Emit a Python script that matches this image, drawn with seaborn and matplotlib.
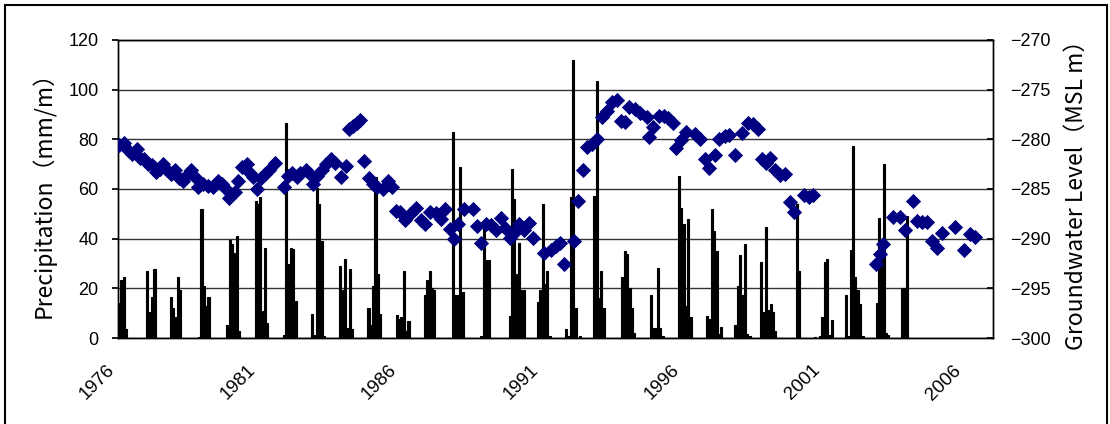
import numpy as np
import pandas as pd
import matplotlib
matplotlib.use("Agg")
import matplotlib.pyplot as plt
from matplotlib.patches import Rectangle
import seaborn as sns

# monthly precipitation (mm/month), only months with rain; others are zero
rain_month = [
    "1976-01", "1976-02", "1976-03", "1976-04",
    "1977-01", "1977-02", "1977-03", "1977-04",
    "1977-11", "1977-12", "1978-01", "1978-02", "1978-03",
    "1978-11", "1978-12", "1979-01", "1979-02", "1979-03",
    "1979-11", "1979-12", "1980-01", "1980-02", "1980-03", "1980-04",
    "1980-11", "1980-12", "1981-01", "1981-02", "1981-03", "1981-04",
    "1981-11", "1981-12", "1982-01", "1982-02", "1982-03", "1982-04",
    "1982-11", "1982-12", "1983-01", "1983-02", "1983-03", "1983-04",
    "1983-11", "1983-12", "1984-01", "1984-02", "1984-03", "1984-04",
    "1984-11", "1984-12", "1985-01", "1985-02", "1985-03", "1985-04",
    "1985-11", "1985-12", "1986-01", "1986-02", "1986-03", "1986-04",
    "1986-11", "1986-12", "1987-01", "1987-02", "1987-03",
    "1987-11", "1987-12", "1988-01", "1988-02", "1988-03",
    "1988-11", "1988-12", "1989-01", "1989-02",
    "1989-11", "1989-12", "1990-01", "1990-02", "1990-03", "1990-04", "1990-05",
    "1990-11", "1990-12", "1991-01", "1991-02", "1991-03", "1991-04",
    "1991-11", "1991-12", "1992-01", "1992-02", "1992-03", "1992-05",
    "1992-11", "1992-12", "1993-01", "1993-02", "1993-03",
    "1993-11", "1993-12", "1994-01", "1994-02", "1994-03", "1994-04",
    "1994-11", "1994-12", "1995-01", "1995-02", "1995-03", "1995-04",
    "1995-11", "1995-12", "1996-01", "1996-02", "1996-03", "1996-04",
    "1996-11", "1996-12", "1997-01", "1997-02", "1997-03", "1997-04", "1997-05",
    "1997-11", "1997-12", "1998-01", "1998-02", "1998-03", "1998-04", "1998-05",
    "1998-10", "1998-11", "1998-12", "1999-01", "1999-02", "1999-03", "1999-04",
    "2000-01", "2000-02", "2000-09",
    "2000-11", "2000-12", "2001-01", "2001-02", "2001-03", "2001-04",
    "2001-10", "2001-11", "2001-12", "2002-01", "2002-02", "2002-03", "2002-04", "2002-05",
    "2002-11", "2002-12", "2003-01", "2003-02", "2003-03", "2003-04",
    "2003-10", "2003-11", "2003-12",
]
rain_mm = [
    14.2, 23.2, 24.5, 3.8,
    27.0, 10.5, 16.4, 27.6,
    16.4, 12.0, 8.4, 24.7, 19.5,
    0.5, 52.0, 21.0, 12.8, 16.4,
    5.4, 39.5, 38.0, 34.4, 41.0, 3.0,
    55.0, 54.0, 56.6, 10.8, 36.4, 6.0,
    1.3, 86.5, 30.0, 36.4, 35.7, 14.8,
    9.7, 1.3, 60.6, 54.0, 39.0, 0.7,
    29.0, 19.5, 32.0, 4.0, 27.6, 3.8,
    12.0, 5.4, 21.0, 65.0, 25.6, 9.7,
    9.2, 7.8, 8.4, 27.0, 3.0, 6.7,
    17.2, 23.2, 27.0, 20.2, 19.5,
    83.0, 17.2, 17.5, 68.7, 18.6,
    0.7, 43.8, 31.3, 31.3,
    8.8, 68.0, 56.0, 25.6, 38.4, 19.5, 19.5,
    14.7, 19.5, 54.0, 21.6, 27.0, 0.7,
    3.8, 0.7, 56.6, 112.0, 11.9, 0.7,
    57.3, 103.5, 16.2, 27.0, 12.0,
    24.5, 35.0, 33.7, 20.2, 12.0, 2.0,
    17.2, 4.0, 4.0, 28.3, 4.0, 1.0,
    65.4, 52.3, 46.0, 12.8, 47.8, 8.4,
    9.0, 7.8, 52.0, 43.0, 35.0, 1.6, 4.5,
    5.4, 21.0, 33.5, 17.2, 38.0, 1.6, 0.7,
    30.7, 10.5, 44.7, 11.2, 13.5, 10.5, 3.0,
    54.0, 27.0, 0.3,
    0.7, 8.4, 30.7, 32.0, 1.3, 7.4,
    17.3, 1.0, 35.3, 77.5, 24.5, 19.5, 13.5, 0.7,
    14.2, 48.5, 33.7, 70.0, 2.0, 1.3,
    20.2, 20.2, 49.0,
]

# groundwater level observations (decimal year, m above MSL)
gw_year = [
    1976.04, 1976.22, 1976.37, 1976.48, 1976.66, 1976.78, 1976.93, 1977.07, 1977.22, 1977.34,
    1977.49, 1977.61, 1977.72, 1977.88, 1978.02, 1978.16, 1978.32, 1978.47, 1978.59, 1978.73,
    1978.85, 1979.02, 1979.20, 1979.38, 1979.53, 1979.70, 1979.81, 1979.93, 1980.15, 1980.24,
    1980.38, 1980.56, 1980.68, 1980.80, 1980.92, 1981.07, 1981.21, 1981.35, 1981.56, 1981.89,
    1982.04, 1982.18, 1982.33, 1982.45, 1982.66, 1982.80, 1982.92, 1983.06, 1983.22, 1983.37,
    1983.54, 1983.69, 1983.89, 1984.09, 1984.20, 1984.34, 1984.46, 1984.58, 1984.72, 1984.91,
    1985.05, 1985.19, 1985.38, 1985.55, 1985.70, 1985.86, 1986.00, 1986.17, 1986.33, 1986.56,
    1986.73, 1986.88, 1987.06, 1987.27, 1987.44, 1987.59, 1987.75, 1987.89, 1988.06, 1988.26,
    1988.56, 1988.71, 1988.87, 1989.03, 1989.22, 1989.38, 1989.57, 1989.71, 1989.89, 1990.04,
    1990.21, 1990.40, 1990.56, 1990.72, 1991.11, 1991.34, 1991.51, 1991.66, 1991.79, 1992.14,
    1992.31, 1992.46, 1992.61, 1992.79, 1992.96, 1993.14, 1993.32, 1993.50, 1993.67, 1993.83,
    1993.95, 1994.11, 1994.30, 1994.50, 1994.73, 1994.83, 1994.97, 1995.15, 1995.33, 1995.50,
    1995.68, 1995.77, 1995.94, 1996.13, 1996.45, 1996.62, 1996.80, 1996.95, 1997.15, 1997.31,
    1997.51, 1997.66, 1997.87, 1998.11, 1998.31, 1998.49, 1998.66, 1998.81, 1998.97, 1999.10,
    1999.28, 1999.46, 1999.64, 1999.81, 1999.95, 2000.29, 2000.47, 2000.64,
    2002.86, 2003.00, 2003.12, 2003.45, 2003.71, 2003.89, 2004.16, 2004.30, 2004.48, 2004.65,
    2004.83, 2005.01, 2005.19, 2005.66, 2005.96, 2006.19, 2006.37,
]
gw_level = [
    -280.6, -280.4, -281.1, -281.5, -281.0, -281.9, -282.0, -282.5, -282.6, -283.3,
    -283.0, -282.5, -283.1, -283.5, -283.1, -283.9, -284.2, -283.5, -283.1, -283.8,
    -284.8, -284.5, -284.7, -284.8, -284.2, -284.5, -285.0, -285.9, -285.3, -284.2,
    -282.8, -282.5, -283.4, -283.8, -285.0, -283.9, -283.5, -283.1, -282.4, -284.8,
    -283.7, -283.4, -283.8, -283.4, -283.1, -283.5, -284.5, -283.7, -283.1, -282.5,
    -282.0, -282.4, -283.8, -282.7, -279.0, -278.7, -278.4, -278.1, -282.2, -283.9,
    -284.5, -284.8, -285.0, -284.2, -284.8, -287.2, -287.3, -288.1, -287.5, -286.9,
    -288.1, -288.5, -287.3, -287.4, -288.0, -287.0, -289.0, -290.0, -288.5, -287.0,
    -287.0, -288.7, -290.4, -288.5, -288.6, -289.1, -287.9, -288.9, -289.9, -289.4,
    -288.5, -289.1, -288.4, -289.9, -291.4, -291.1, -290.7, -290.4, -292.6, -290.2,
    -286.2, -283.1, -280.8, -280.5, -280.0, -277.8, -277.1, -276.2, -276.0, -278.2,
    -278.3, -276.7, -276.9, -277.3, -277.8, -279.8, -278.8, -277.7, -277.7, -277.9,
    -278.4, -280.9, -280.1, -279.3, -279.5, -280.0, -282.0, -282.9, -281.6, -280.0,
    -279.7, -279.6, -281.6, -279.4, -278.4, -278.5, -279.0, -282.0, -282.4, -281.9,
    -283.1, -283.6, -283.5, -286.3, -287.3, -285.6, -285.8, -285.6,
    -292.5, -291.5, -290.5, -287.8, -287.8, -289.1, -286.2, -288.2, -288.3, -288.3,
    -290.2, -290.9, -289.4, -288.8, -291.1, -289.5, -289.8,
]

year_labels = ["1976", "1981", "1986", "1991", "1996", "2001", "2006"]

sns.set_theme(style="white")
plt.rcParams["font.family"] = ["Liberation Sans", "DejaVu Sans"]
plt.rcParams["text.color"] = "black"
plt.rcParams["axes.labelcolor"] = "black"
cjk = ["Noto Sans CJK JP", "DejaVu Sans"]

# month index on the category axis: month i sits between i and i+1
rain = pd.DataFrame({"month": pd.to_datetime(rain_month), "mm": rain_mm})
rain["pos"] = (rain["month"].dt.year - 1976) * 12 + rain["month"].dt.month - 1 + 0.5
gw = pd.DataFrame({"pos": (np.array(gw_year) - 1976) * 12, "level": gw_level})

fig = plt.figure(figsize=(11.1, 4.24), dpi=100)
ax = fig.add_axes([0.1063, 0.2028, 0.7883, 0.7029])

sns.barplot(data=rain, x="pos", y="mm", native_scale=True, color="black",
            saturation=1, width=0.9, linewidth=0.8, edgecolor="black",
            errorbar=None, ax=ax)
ax.set_xlim(0, 372)
ax.set_ylim(0, 120)
ax.set_yticks(range(0, 121, 20))
ax.set_xticks([(int(y) - 1976) * 12 for y in year_labels])
# bounding box of the rotated label ends a little left of its tick
ax.set_xticklabels(year_labels, rotation=45, ha="right", va="top",
                   rotation_mode="default")
ax.tick_params(axis="x", length=3, pad=14, labelsize=13.5, colors="black")
ax.tick_params(axis="y", length=4, pad=10, labelsize=13, colors="black", direction="out")
ax.set_xlabel("")
ax.set_ylabel("Precipitation（mm/m）", fontsize=16.5, labelpad=9, family=cjk)
ax.yaxis.grid(True, color="#333333", linewidth=1)
ax.set_axisbelow(True)
for s in ax.spines.values():
    s.set_color("black")
    s.set_linewidth(1)

ax2 = ax.twinx()
sns.scatterplot(data=gw, x="pos", y="level", marker="D", color="#000080",
                s=60, linewidth=0, ax=ax2, zorder=5)
ax2.set_xlim(0, 372)
ax2.set_ylim(-300, -270)
ax2.set_yticks(range(-300, -269, 5))
ax2.tick_params(axis="y", length=4, pad=12, labelsize=13, colors="black", direction="in")
ax2.set_ylabel("Groundwater Level（MSL m）", fontsize=16.5, labelpad=10, family=cjk)
ax2.set_xlabel("")
for s in ax2.spines.values():
    s.set_color("black")
    s.set_linewidth(1)

# frame around the whole chart
fig.patches.append(Rectangle((0.0045, -0.01), 0.9925, 0.998, transform=fig.transFigure,
                             fill=False, edgecolor="black", linewidth=1.5))

fig.savefig("out.png", dpi=100)
plt.close(fig)
